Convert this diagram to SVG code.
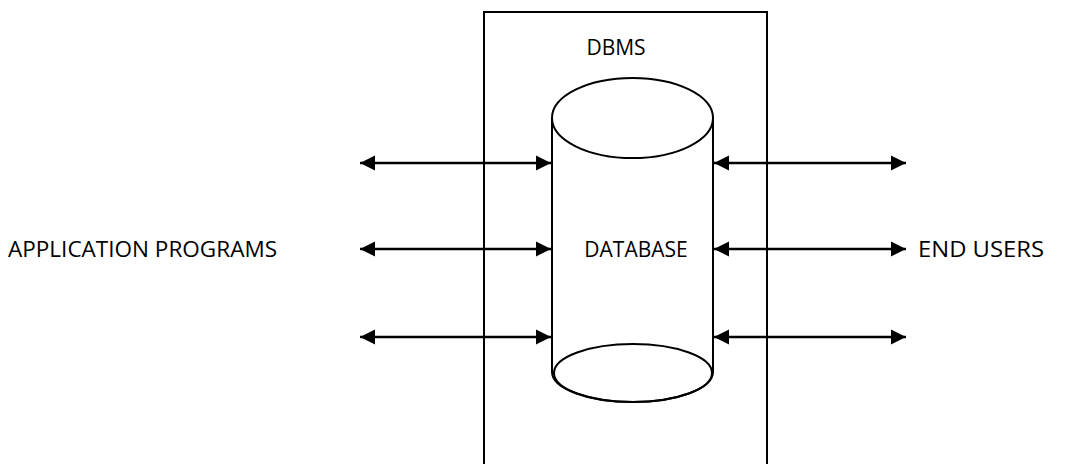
<svg xmlns="http://www.w3.org/2000/svg" width="1074" height="464" viewBox="0 0 1074 464">
<style>
.s{fill:none;stroke:#000;stroke-width:2}
.c{fill:#fff;stroke:#000;stroke-width:2}
.t{font-family:"Open Sans","Liberation Sans",sans-serif;font-size:21px;fill:#000}
.a{stroke:#000;stroke-width:2.5;fill:none;marker-start:url(#h);marker-end:url(#h)}
</style>
<defs>
<marker id="h" viewBox="0 0 10 10" refX="10" refY="5" markerWidth="6" markerHeight="6.4" orient="auto-start-reverse" markerUnits="strokeWidth">
<path d="M0,0 L10,5 L0,10 Z" fill="#000"/>
</marker>
</defs>
<rect width="1074" height="464" fill="#fff"/>
<g id="dbms">
<rect x="484" y="12" width="283" height="470" class="s"/>
<text x="616" y="55" class="t" text-anchor="middle" font-size="22">DBMS</text>
</g>
<g id="database">
<path d="M552,118 L552,372 A80.5,30 0 0 0 713,372 L713,118" class="c"/>
<ellipse cx="632.5" cy="118" rx="80.5" ry="40" class="c"/>
<ellipse cx="633" cy="373" rx="79" ry="29" class="s"/>
<text x="636" y="257" class="t" text-anchor="middle" font-size="20">DATABASE</text>
</g>
<g id="app">
<text x="8" y="257" class="t" font-size="22" textLength="269" lengthAdjust="spacingAndGlyphs">APPLICATION PROGRAMS</text>
</g>
<g id="users">
<text x="918" y="257" class="t" font-size="22" textLength="126" lengthAdjust="spacingAndGlyphs">END USERS</text>
</g>
<g id="connectors">
<line x1="360" y1="163" x2="551" y2="163" class="a"/>
<line x1="360" y1="249" x2="551" y2="249" class="a"/>
<line x1="360" y1="337" x2="551" y2="337" class="a"/>
<line x1="714" y1="163" x2="906" y2="163" class="a"/>
<line x1="714" y1="249" x2="906" y2="249" class="a"/>
<line x1="714" y1="337" x2="906" y2="337" class="a"/>
</g>
</svg>
